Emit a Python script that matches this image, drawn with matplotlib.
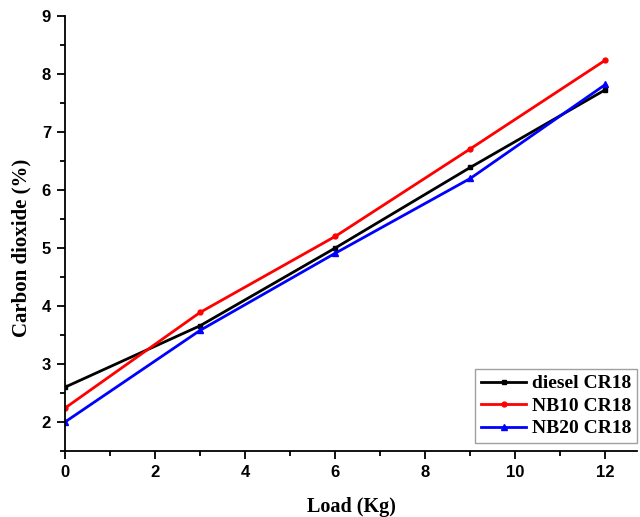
import numpy as np
import matplotlib.pyplot as plt
from matplotlib.ticker import MultipleLocator

# data
load = [0, 3, 6, 9, 12]
diesel = [2.6, 3.66, 5.0, 6.39, 7.73]
nb10 = [2.24, 3.89, 5.2, 6.71, 8.24]
nb20 = [2.0, 3.58, 4.91, 6.2, 7.82]

fig = plt.figure(figsize=(6.4, 5.17), dpi=100)
ax = fig.add_axes([65/640, 66/517, (637-65)/640, (451-16)/517])

ax.plot(load, diesel, color='black', marker='s', markersize=3.5, lw=2, label='diesel CR18')
ax.plot(load, nb10, color='red', marker='o', markersize=3.5, lw=2, label='NB10 CR18')
ax.plot(load, nb20, color='blue', marker='^', markersize=4, lw=2, label='NB20 CR18')

ax.set_xlim(0, 12.7)
ax.set_ylim(1.5, 9)
ax.xaxis.set_major_locator(MultipleLocator(2))
ax.xaxis.set_minor_locator(MultipleLocator(1))
ax.yaxis.set_major_locator(MultipleLocator(1))
ax.yaxis.set_minor_locator(MultipleLocator(0.5))
ax.yaxis.set_major_formatter(plt.FuncFormatter(lambda v, p: '%d' % v if v >= 2 else ''))
ax.spines['top'].set_visible(False)
ax.spines['right'].set_visible(False)
for s in ['left', 'bottom']:
    ax.spines[s].set_linewidth(1.3)
ax.tick_params(which='major', direction='out', length=6, width=1.3, pad=4)
ax.tick_params(which='minor', direction='out', length=3.5, width=1.3)
for lab in ax.get_xticklabels() + ax.get_yticklabels():
    lab.set_fontfamily('Liberation Sans')
    lab.set_fontweight('bold')
    lab.set_fontsize(12)

ax.set_xlabel('Load (Kg)', family='Liberation Serif', weight='bold', fontsize=14.5, labelpad=12)
ax.set_ylabel('Carbon dioxide (%)', family='Liberation Serif', weight='bold', fontsize=15)
ax.yaxis.set_label_coords(-0.058, 0.467)

leg = ax.legend(loc='lower right', bbox_to_anchor=(1.0, 0.018), frameon=True, fancybox=False,
                edgecolor='#888888', handlelength=2.3, borderpad=0.3, labelspacing=0.25,
                handletextpad=0.3, borderaxespad=0,
                prop={'family': 'Liberation Serif', 'weight': 'bold', 'size': 14})
leg.get_frame().set_linewidth(1)

fig.savefig('out.png', dpi=100)
